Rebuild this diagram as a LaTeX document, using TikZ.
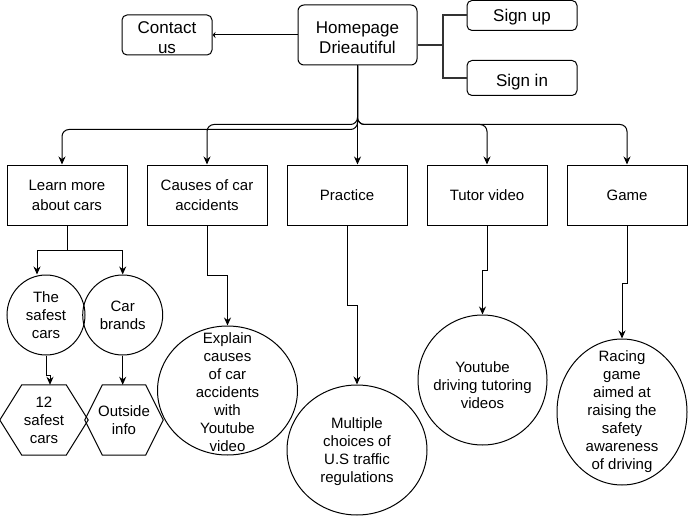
\documentclass[tikz,border=0pt]{standalone}
\usepackage{fontspec}
\setmainfont{Liberation Sans}
\usetikzlibrary{shapes.geometric,arrows.meta,calc}
\begin{document}
\begin{tikzpicture}[x=1pt,y=-1pt,
  big/.style={font=\fontsize{17}{20}\selectfont, align=center, inner sep=0pt},
  small/.style={font=\fontsize{15}{18}\selectfont, align=center},
  rbox/.style={draw, rounded corners=6pt, line width=1pt, inner sep=0pt},
  sbox/.style={draw, line width=1pt, minimum width=120pt, minimum height=60pt, inner sep=0pt,
    font=\fontsize{15}{20}\selectfont, align=center},
  ell/.style={draw, ellipse, line width=1pt, inner sep=0pt},
  txt/.style={inner sep=0pt, small},
  conn/.style={line width=1pt, -{Stealth[length=8pt,width=7pt]}},
  rconn/.style={conn, rounded corners=7pt},
  joinline/.style={line width=2pt, black!80},
  hexline/.style={line width=1pt},
]
\useasboundingbox (0,0) rectangle (688,516);

% top row
\node[rbox, minimum width=119pt, minimum height=60pt] (home) at (357.5,35) {};
\node[big] (hometxt) at ([yshift=-2.5pt]home.center) {Homepage\\Drieautiful};
\node[rbox, rounded corners=5pt, minimum width=90pt, minimum height=40pt] (contact) at (167,35) {};
\node[big] (contacttxt) at ([yshift=-2.5pt]contact.center) {Contact\\us};
\node[rbox, rounded corners=5pt, minimum width=110pt, minimum height=30pt] (signup) at (522,15.5) {};
\node[big] (signuptxt) at ([yshift=-1.5pt]signup.center) {Sign up};
\node[rbox, rounded corners=5pt, minimum width=110pt, minimum height=35pt] (signin) at (522,78) {};
\node[big] (signintxt) at ([yshift=-4pt]signin.center) {Sign in};

\draw[line width=1pt, -{Stealth[length=3pt,width=6pt]}] (home.west) -- (contact.east);
\coordinate (j) at ($(home.east)+(25,10.5)$);
\draw[joinline] ([yshift=-10.5pt]home.east) -- (j) |- (signup.west);
\draw[joinline] (j) |- (signin.west);

% second row
\node[sbox] (learn) at (67,195) {Learn more\\about cars};
\node[sbox] (causes) at (207,195) {Causes of car\\accidents};
\node[sbox] (practice) at (347,195) {Practice};
\node[sbox] (tutor) at (487,195) {Tutor video};
\node[sbox] (game) at (627,195) {Game};

\draw[rconn] (home.south) |- ($(learn.north)+(-5,-35)$) -- ([xshift=-5pt]learn.north);
\draw[rconn] (home.south) |- ($(causes.north)+(0,-40)$) -- (causes.north);
\draw[conn] (home.south) -- (home.south |- practice.north);
\draw[rconn] (home.south) |- ($(tutor.north)+(0,-40)$) -- (tutor.north);
\draw[rconn] (home.south) |- ($(game.north)+(0,-40)$) -- (game.north);

% learn more subtree
\node[ell, minimum width=78pt, minimum height=80pt] (safe) at (46,315) {};
\node[txt] (safetxt) at (safe) {The\\safest\\cars};
\node[ell, minimum width=80pt, minimum height=80pt] (brands) at (122.7,315) {};
\node[txt] (brandstxt) at (brands) {Car\\brands};

\draw[conn] (learn.south) -- ++(0,25) -| ([xshift=-9pt]safe.north);
\draw[conn] (learn.south) -- ++(0,25) -| (brands.north);

\node[txt, minimum width=88pt, minimum height=70pt] (h1) at (44,420) {12\\safest\\cars};
\draw[hexline] (h1.west) -- ($(h1.north west)+(22,0)$) -- ($(h1.north east)+(-22,0)$) -- (h1.east)
  -- ($(h1.south east)+(-22,0)$) -- ($(h1.south west)+(22,0)$) -- cycle;
\node[txt, minimum width=78pt, minimum height=70pt] (h2) at (124,420) {Outside\\info};
\draw[hexline] (h2.west) -- ($(h2.north west)+(17.5,0)$) -- ($(h2.north east)+(-17.5,0)$) -- (h2.east)
  -- ($(h2.south east)+(-17.5,0)$) -- ($(h2.south west)+(17.5,0)$) -- cycle;

\draw[conn] (safe.south) -- ++(0,20) -| ([xshift=6pt]h1.north);
\draw[conn] (brands.south) -- (brands.south |- h2.north);

% other leaves
\node[ell, minimum width=140pt, minimum height=129pt] (explain) at (227.5,390.5) {};
\node[txt] (explaintxt) at ([yshift=-2pt]explain.center) {Explain\\causes\\of car\\accidents\\with\\Youtube\\video};
\node[ell, minimum width=140pt, minimum height=130pt] (multiple) at (357,450) {};
\node[txt] (multipletxt) at ([yshift=-2pt]multiple.center) {Multiple\\choices of\\U.S traffic\\regulations};
\node[ell, minimum width=129pt, minimum height=130pt] (youtube) at (482.5,380) {};
\node[txt] (youtubetxt) at ([yshift=-5pt]youtube.center) {Youtube\\driving tutoring\\videos};
\node[ell, minimum width=130pt, minimum height=146pt] (racing) at (622,412) {};
\node[txt] (racingtxt) at (racing) {Racing\\game\\aimed at\\raising the\\safety\\awareness\\of driving};

\draw[conn] (causes.south) -- ++(0,50) -| (explain.north);
\draw[conn] (practice.south) -- ++(0,80) -| (multiple.north);
\draw[conn] (tutor.south) -- ++(0,45) -| (youtube.north);
\draw[conn] (game.south) -- ++(0,58) -| (racing.north);
\end{tikzpicture}
\end{document}
